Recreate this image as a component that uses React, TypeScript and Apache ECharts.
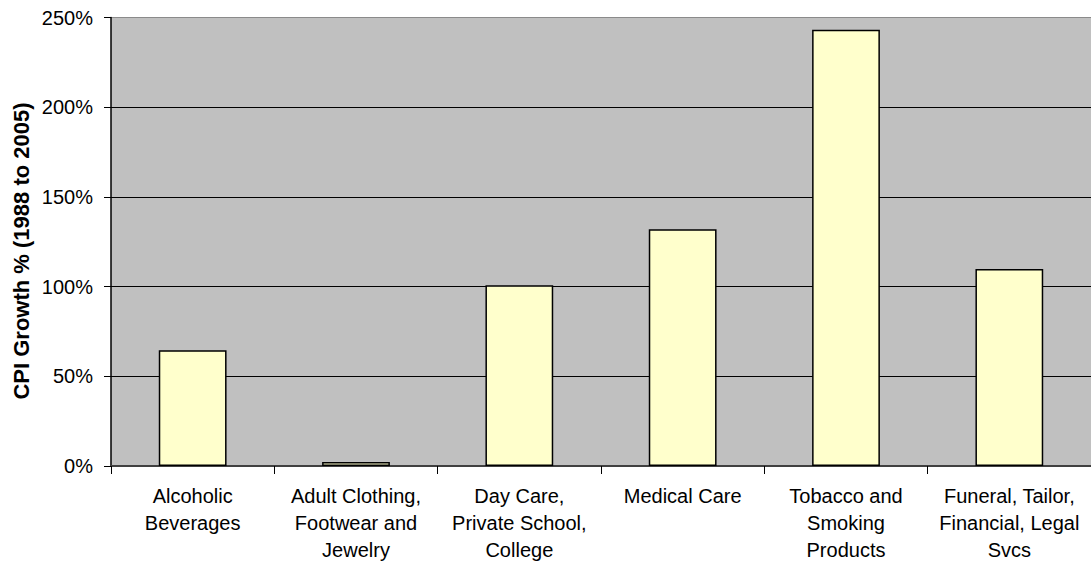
import React, { useEffect, useRef } from "react";
import * as echarts from "echarts";

// CPI growth by spending category, 1988 to 2005 (percent)
const categories = [
  "Alcoholic\nBeverages",
  "Adult Clothing,\nFootwear and\nJewelry",
  "Day Care,\nPrivate School,\nCollege",
  "Medical Care",
  "Tobacco and\nSmoking\nProducts",
  "Funeral, Tailor,\nFinancial, Legal\nSvcs",
];
const growthPct = [64.5, 2.2, 100.7, 132, 243.2, 109.8];
const yTicks = { min: 0, max: 250, interval: 50 };
const yAxisTitle = "CPI Growth % (1988 to 2005)";

const FONT = "'Liberation Sans', Arial, Helvetica, sans-serif";

export default function App() {
  const ref = useRef<HTMLDivElement>(null);

  useEffect(() => {
    if (!ref.current) return;
    const chart = echarts.init(ref.current, null, { renderer: "svg" });
    chart.setOption({
      animation: false,
      backgroundColor: "#ffffff",
      grid: {
        left: 111,
        right: -4,
        top: 17.5,
        bottom: 96,
        show: true,
        backgroundColor: "#C0C0C0",
        borderWidth: 0,
      },
      graphic: [
        {
          type: "text",
          rotation: Math.PI / 2,
          x: 21,
          y: 251,
          style: {
            text: yAxisTitle,
            font: `bold 22px ${FONT}`,
            fill: "#000",
            align: "center",
            verticalAlign: "middle",
          },
        },
      ],
      xAxis: {
        type: "category",
        data: categories,
        axisLine: { show: true, lineStyle: { color: "#404040", width: 2 } },
        axisTick: { show: true, length: 8, lineStyle: { color: "#000", width: 1 } },
        axisLabel: {
          interval: 0,
          margin: 16,
          color: "#000",
          fontFamily: FONT,
          fontSize: 20,
          lineHeight: 27,
          align: "center",
        },
        splitLine: { show: false },
      },
      yAxis: {
        type: "value",
        min: yTicks.min,
        max: yTicks.max,
        interval: yTicks.interval,
        axisLine: { show: true, lineStyle: { color: "#000", width: 1.5 } },
        axisTick: { show: true, length: 7, lineStyle: { color: "#000", width: 1 } },
        axisLabel: {
          formatter: "{value}%",
          margin: 18,
          color: "#000",
          fontFamily: FONT,
          fontSize: 20,
        },
        splitLine: {
          show: true,
          lineStyle: {
            color: ["#000", "#000", "#000", "#000", "#000", "#8a8a8a"],
            width: 1,
          },
        },
      },
      series: [
        {
          type: "bar",
          data: growthPct,
          barWidth: "41.5%",
          itemStyle: {
            color: "#FFFFCC",
            borderColor: "#000",
            borderWidth: 1.5,
          },
        },
      ],
    });
    return () => chart.dispose();
  }, []);

  return (
    <div
      ref={ref}
      style={{ position: "fixed", left: 0, top: 0, width: 1091, height: 563 }}
    />
  );
}
